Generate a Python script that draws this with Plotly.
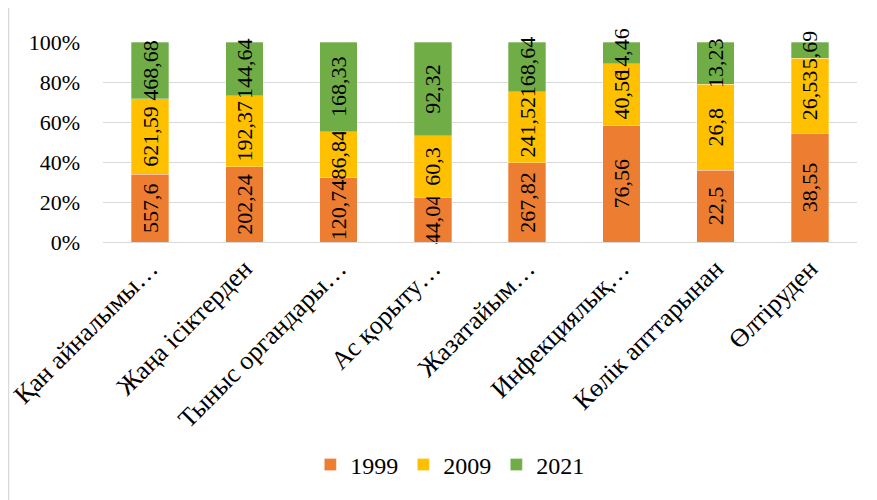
import plotly.graph_objects as go

categories = ["Қан айналымы…", "Жаңа ісіктерден", "Тыныс органдары…", "Ас қорыту…",
              "Жазатайым…", "Инфекциялық…", "Көлік апттарынан", "Өлтіруден"]
v1999 = [557.6, 202.24, 120.74, 44.04, 267.82, 76.56, 22.5, 38.55]
v2009 = [621.59, 192.37, 86.84, 60.3, 241.52, 40.56, 26.8, 26.53]
v2021 = [468.68, 144.64, 168.33, 92.32, 168.64, 14.46, 13.23, 5.69]
y_ticks = [0, 20, 40, 60, 80, 100]
y_tick_text = ["0%", "20%", "40%", "60%", "80%", "100%"]
series = [("1999", v1999, "#ED7D31"), ("2009", v2009, "#FFC000"), ("2021", v2021, "#70AD47")]

FONT = "Liberation Serif"

def fmt(v):
    s = ("%.2f" % v).rstrip("0").rstrip(".")
    return s.replace(".", ",")

fig = go.Figure()
for name, vals, col in series:
    fig.add_trace(go.Bar(
        x=categories, y=vals, name=name,
        marker=dict(color=col, line=dict(color="rgba(255,255,255,0.6)", width=0.5)),
        text=[fmt(v) for v in vals], textposition="inside", insidetextanchor="middle",
        textangle=-90, textfont=dict(family=FONT, size=22, color="black"),
        constraintext="none", cliponaxis=False,
    ))

W, H = 869, 492
L, T, R, B = 95, 34, 20, 258
PW, PH = W - L - R, H - T - B

fig.update_layout(
    barmode="stack", barnorm="percent", bargap=0.6,
    width=W, height=H,
    margin=dict(l=L, r=R, t=T, b=B, autoexpand=False),
    paper_bgcolor="white", plot_bgcolor="white",
    font=dict(family=FONT, color="black"),
    uniformtext=dict(minsize=22, mode="show"),
    legend=dict(orientation="h", x=0.46, xanchor="center", y=-1.115, yanchor="middle",
                font=dict(family=FONT, size=24), itemwidth=30, traceorder="normal"),
    showlegend=True,
)
fig.update_yaxes(range=[0, 100], tickvals=y_ticks, ticktext=y_tick_text,
                 showgrid=True, gridcolor="#d9d9d9", gridwidth=1,
                 zeroline=True, zerolinecolor="#d9d9d9", zerolinewidth=1,
                 tickfont=dict(family=FONT, size=22), ticklabelstandoff=22, showline=False,
                 automargin=False)
fig.update_xaxes(tickangle=-45, tickfont=dict(family=FONT, size=26), showline=True,
                 linecolor="#d9d9d9", linewidth=1, ticks="", automargin=False,
                 ticklabelstandoff=0)
fig.add_shape(type="line", xref="paper", yref="paper",
              x0=(0.5 - L) / PW, x1=(0.5 - L) / PW, y0=-(H - T - PH) / PH, y1=(T + PH) / PH,
              line=dict(color="#d9d9d9", width=1.5))

fig.write_html("out.html")
